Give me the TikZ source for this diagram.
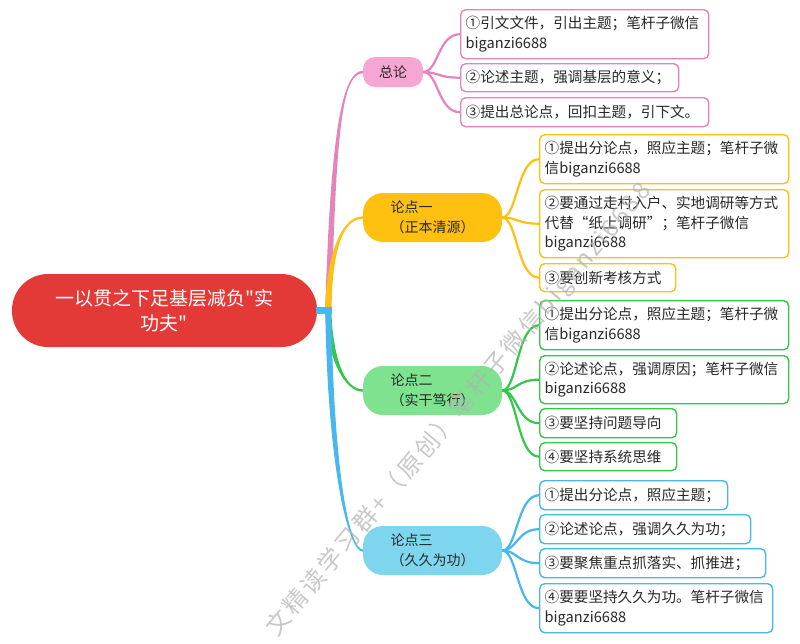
\documentclass[tikz,border=0pt]{standalone}
\usepackage{fontspec}
\setmainfont{Noto Sans CJK SC}[Ligatures=TeXOff]
\usetikzlibrary{calc}
\definecolor{rootred}{RGB}{227,58,55}
\definecolor{pinkB}{RGB}{228,132,186}
\definecolor{pinkF}{RGB}{246,166,211}
\definecolor{yel}{RGB}{255,192,15}
\definecolor{greenF}{RGB}{126,226,143}
\definecolor{greenB}{RGB}{52,199,74}
\definecolor{blueF}{RGB}{125,214,237}
\definecolor{blueB}{RGB}{71,183,238}
\definecolor{txt}{RGB}{40,40,40}
\begin{document}
\begin{tikzpicture}[x=1pt,y=-1pt,
  leaf/.style={draw, line width=1.4pt, rounded corners=5pt, fill=white, anchor=north west,
    align=left, inner xsep=5pt, inner ysep=2pt, text=txt,
    font=\fontsize{14.6}{19.5}\selectfont},
  mid/.style={minimum width=139pt, minimum height=49pt, rounded corners=20pt, align=left,
    inner sep=0pt, text=txt, font=\fontsize{14}{20.5}\selectfont},
  child/.style={line width=2.2pt},
]
\useasboundingbox[fill=white] (0,0) rectangle (800,643);

% root and main topics
\node[fill=rootred, minimum width=305pt, minimum height=73pt, rounded corners=36pt,
  text=white, align=center, inner sep=0pt, font=\fontsize{19}{25}\selectfont]
  (root) at (164.5,310.5) {一以贯之下足基层减负"实\\功夫"};
\node[fill=pinkF, minimum width=60pt, minimum height=30pt, rounded corners=12pt,
  inner sep=0pt, text=txt, font=\fontsize{14}{16}\selectfont] (zl) at (393,72) {总论};
\node[mid, fill=yel] (l1) at (432.5,217.5) {论点一\\（正本清源）};
\node[mid, fill=greenF] (l2) at (432.5,390.5) {论点二\\（实干笃行）};
\node[mid, fill=blueF] (l3) at (432.5,550.5) {论点三\\（久久为功）};

% tapered main branches
\fill[pinkB] ([xshift=8pt]root.east) .. controls +(5,-161) and +(-23,0) .. ([yshift=1.2pt]zl.west)
  -- ([yshift=-1.2pt]zl.west) .. controls +(-23,0) and +(5,-161) .. ([xshift=14pt]root.east) -- cycle;
\fill[yel] ([xshift=8pt]root.east) .. controls +(1,-51) and +(-23,0) .. ([yshift=1.2pt]l1.west)
  -- ([yshift=-1.2pt]l1.west) .. controls +(-23,0) and +(1,-51) .. ([xshift=14pt]root.east) -- cycle;
\fill[greenB] ([xshift=8pt]root.east) .. controls +(2,49) and +(-18,0) .. ([yshift=-1.2pt]l2.west)
  -- ([yshift=1.2pt]l2.west) .. controls +(-18,0) and +(2,49) .. ([xshift=14pt]root.east) -- cycle;
\fill[blueB] ([xshift=8pt]root.east) .. controls +(3,169) and +(-13,0) .. ([yshift=-1.2pt]l3.west)
  -- ([yshift=1.2pt]l3.west) .. controls +(-13,0) and +(3,169) .. ([xshift=14pt]root.east) -- cycle;
\fill[blueB] ([xshift=-1pt,yshift=3.5pt]root.east) rectangle ([xshift=15pt,yshift=-3.5pt]root.east);

% leaves: 总论
\node[leaf, draw=pinkB, text width=238pt, minimum height=49pt] (p1) at (460,9)
  {①引文文件，引出主题；笔杆子微信\\biganzi6688};
\node[leaf, draw=pinkB, text width=208pt, minimum height=28pt] (p2) at (460,63)
  {②论述主题，强调基层的意义；};
\node[leaf, draw=pinkB, text width=238pt, minimum height=29pt] (p3) at (460,97)
  {③提出总论点，回扣主题，引下文。};
% leaves: 论点一
\node[leaf, draw=yel, text width=239pt, minimum height=49pt] (y1) at (539,134)
  {①提出分论点，照应主题；笔杆子微\\信biganzi6688};
\node[leaf, draw=yel, text width=239pt, minimum height=68pt] (y2) at (539,189)
  {②要通过走村入户、实地调研等方式\\代替“纸上调研”；笔杆子微信\\biganzi6688};
\node[leaf, draw=yel, text width=126pt, minimum height=28pt] (y3) at (539,263)
  {③要创新考核方式};
% leaves: 论点二
\node[leaf, draw=greenB, text width=239pt, minimum height=49pt] (g1) at (539,300)
  {①提出分论点，照应主题；笔杆子微\\信biganzi6688};
\node[leaf, draw=greenB, text width=239pt, minimum height=48pt] (g2) at (539,355)
  {②论述论点，强调原因；笔杆子微信\\biganzi6688};
\node[leaf, draw=greenB, text width=127pt, minimum height=29pt] (g3) at (539,408)
  {③要坚持问题导向};
\node[leaf, draw=greenB, text width=127pt, minimum height=28pt] (g4) at (539,442)
  {④要坚持系统思维};
% leaves: 论点三
\node[leaf, draw=blueB, text width=178pt, minimum height=29pt] (b1) at (539,480)
  {①提出分论点，照应主题；};
\node[leaf, draw=blueB, text width=201pt, minimum height=29pt] (b2) at (539,514)
  {②论述论点，强调久久为功；};
\node[leaf, draw=blueB, text width=216pt, minimum height=29pt] (b3) at (539,548)
  {③要聚焦重点抓落实、抓推进；};
\node[leaf, draw=blueB, text width=223pt, minimum height=49pt] (b4) at (539,583)
  {④要要坚持久久为功。笔杆子微信\\biganzi6688};

% child connectors
\foreach \n in {p1,p2,p3}
  \draw[child, pinkB] (zl.east) .. controls +(15,0) and +(-22,0) .. (\n.west);
\foreach \n in {y1,y2,y3}
  \draw[child, yel] (l1.east) .. controls +(15,0) and +(-22,0) .. (\n.west);
\foreach \n in {g1,g2,g3,g4}
  \draw[child, greenB] (l2.east) .. controls +(15,0) and +(-22,0) .. (\n.west);
\foreach \n in {b1,b2,b3,b4}
  \draw[child, blueB] (l3.east) .. controls +(15,0) and +(-22,0) .. (\n.west);

% watermark
\node[rotate=50, anchor=west, inner sep=0pt, text=black!30, opacity=0.7,
  font=\fontsize{24}{24}\selectfont\addfontfeatures{LetterSpace=12}] (wm) at (272,633)
  {文精读学习群+（原创）笔杆子微信biganzi6688};
\end{tikzpicture}
\end{document}
